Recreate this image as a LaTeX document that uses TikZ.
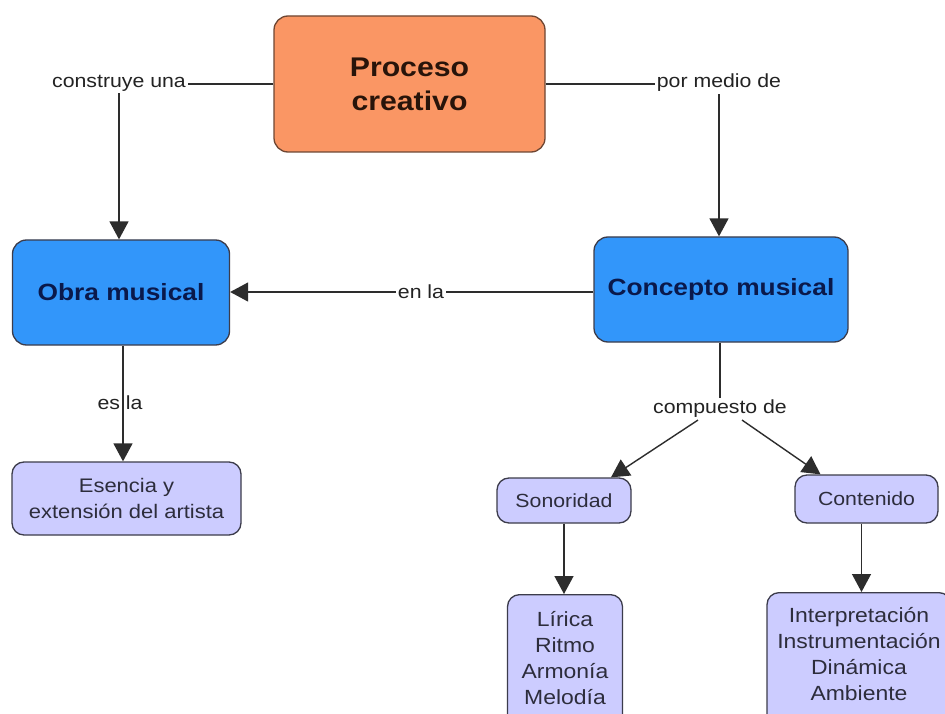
\documentclass[tikz,border=0pt]{standalone}
\usepackage{fontspec}
\setmainfont{Liberation Sans}[FakeStretch=1.12]
\usetikzlibrary{arrows.meta,positioning}

\definecolor{orangefill}{RGB}{250,150,100}
\definecolor{orangeline}{RGB}{110,70,50}
\definecolor{orangetext}{RGB}{40,20,10}
\definecolor{bluefill}{RGB}{50,150,250}
\definecolor{bluetext}{RGB}{10,25,75}
\definecolor{lavfill}{RGB}{204,204,255}
\definecolor{lavtext}{RGB}{45,45,60}
\definecolor{boxline}{RGB}{60,60,75}
\definecolor{linkline}{RGB}{45,45,45}
\definecolor{labeltext}{RGB}{35,35,35}

\tikzset{
  concept/.style={draw=boxline, line width=1.3pt, rounded corners=14pt,
    align=center, inner sep=0pt},
  topbox/.style={concept, fill=orangefill, draw=orangeline, text=orangetext,
    font=\bfseries\fontsize{27}{34}\selectfont},
  mainbox/.style={concept, fill=bluefill, text=bluetext,
    font=\bfseries\fontsize{23.5}{28}\selectfont},
  leafbox/.style={concept, fill=lavfill, text=lavtext, rounded corners=12pt,
    font=\fontsize{19}{25}\selectfont},
  leaftext/.style={align=center, inner sep=0pt, text=lavtext,
    font=\fontsize{20.5}{26}\selectfont},
  linklabel/.style={font=\fontsize{19}{22}\selectfont, text=labeltext,
    inner sep=2pt},
  link/.style={draw=linkline, line width=1.4pt},
  arrowlink/.style={link, -{Triangle[length=18pt,width=19pt]}}
}

\begin{document}
\begin{tikzpicture}[x=1pt,y=-1pt]
  \fill[white] (0,0) rectangle (945,714);
  \clip (0,0) rectangle (945,714);

  % concepts
  \node[topbox, minimum width=271, minimum height=136] (proc) at (409.5,84) {Proceso\\creativo};
  \node[mainbox, minimum width=217, minimum height=105] (obra) at (121,292.5) {Obra musical};
  \node[mainbox, minimum width=254, minimum height=105] (conc) at (721,289.5) {Concepto musical};
  \node[leafbox, minimum width=229, minimum height=73, font=\fontsize{19.6}{25.5}\selectfont]
    (esen) at (126.5,498.5) {Esencia y\\extensión del artista};
  \node[leafbox, minimum width=134, minimum height=45] (sono) at (564,500.5) {Sonoridad};
  \node[leafbox, minimum width=143, minimum height=48] (cont) at (866.5,499) {Contenido};

  % tall lists running past the lower edge
  \node[leafbox, minimum width=115, minimum height=150, anchor=north] (lirbox) at (565,594) {};
  \node[leaftext, below=17pt of lirbox.north] (lirica) {Lírica\\Ritmo\\Armonía\\Melodía};
  \node[leafbox, minimum width=184, minimum height=150, anchor=north] (intbox) at (859,592) {};
  \node[leaftext, below=15pt of intbox.north] (interp) {Interpretación\\Instrumentación\\Dinámica\\Ambiente};

  % linking phrases
  \node[linklabel] (constr) at (119,83) {construye una};
  \node[linklabel] (pmedio) at (719,83) {por medio de};
  \node[linklabel] (enla) at (421,292) {en la};
  \node[linklabel] (esla) at (120,403) {es la};
  \node[linklabel] (comp) at (720,409) {compuesto de};

  % connectors
  \draw[link] (proc.west) -- (constr.east |- proc.west);
  \draw[arrowlink] (constr.south) -- (constr.south |- obra.north);
  \draw[link] (proc.east) -- (pmedio.west |- proc.east);
  \draw[arrowlink] (pmedio.south) -- (pmedio.south |- conc.north);
  \draw[link] (conc.west |- enla.east) -- (enla.east);
  \draw[arrowlink] (enla.west) -- (obra.east |- enla.west);
  % the "es la" link runs through the gap between its two words
  \draw[link] ([xshift=3pt]esla.north |- obra.south) -- ([xshift=3pt,yshift=-1pt]esla.center);
  \draw[arrowlink] ([xshift=3pt,yshift=1pt]esla.center) -- ([xshift=3pt]esla.south |- esen.north);
  \draw[link] (comp.north |- conc.south) -- (comp.north);
  \draw[arrowlink] ([xshift=-22pt]comp.south) -- ([xshift=47pt]sono.north);
  \draw[arrowlink] ([xshift=22pt]comp.south) -- ([xshift=-46pt]cont.north);
  \draw[arrowlink] (sono.south) -- (sono.south |- lirbox.north);
  \draw[arrowlink] ([xshift=-5pt]cont.south) -- ([xshift=-5pt]cont.south |- intbox.north);
\end{tikzpicture}
\end{document}
